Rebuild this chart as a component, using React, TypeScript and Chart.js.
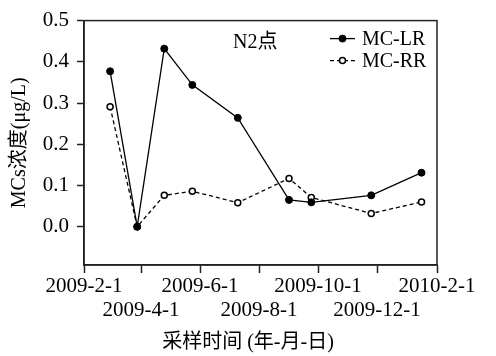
import { useEffect, useRef } from "react";
import { Chart, registerables } from "chart.js";

Chart.register(...registerables);

// ---- data ----
const sampleDates = [
  "2009-02-28",
  "2009-03-28",
  "2009-04-25",
  "2009-05-24",
  "2009-07-10",
  "2009-09-01",
  "2009-09-24",
  "2009-11-25",
  "2010-01-16",
];
const mcLR = [0.377, 0.0, 0.432, 0.344, 0.264, 0.065, 0.059, 0.076, 0.131];
const mcRR = [0.291, 0.0, 0.076, 0.086, 0.058, 0.117, 0.071, 0.032, 0.06];
const xTickDates = [
  "2009-02-01",
  "2009-04-01",
  "2009-06-01",
  "2009-08-01",
  "2009-10-01",
  "2009-12-01",
  "2010-02-01",
];
const xTickLabels = [
  "2009-2-1",
  "2009-4-1",
  "2009-6-1",
  "2009-8-1",
  "2009-10-1",
  "2009-12-1",
  "2010-2-1",
];
const yTicks = [0, 0.1, 0.2, 0.3, 0.4, 0.5];
const seriesNames = ["MC-LR", "MC-RR"];
const siteLabel = "N2点";
const yTitle = "MCs浓度(μg/L)";
const xTitle = "采样时间 (年-月-日)";

const SERIF = "'Liberation Serif', 'Times New Roman', 'Noto Sans CJK SC', serif";

const origin = Date.UTC(2009, 1, 1);
const toDay = (s: string) => {
  const [y, m, d] = s.split("-").map(Number);
  return (Date.UTC(y, m - 1, d) - origin) / 86400000;
};

const framePlugin = {
  id: "frame",
  afterDatasetsDraw(chart: any) {
    const { ctx, chartArea } = chart;
    ctx.save();
    ctx.strokeStyle = "#222";
    ctx.lineWidth = 1.5;
    ctx.strokeRect(chartArea.left, chartArea.top, chartArea.right - chartArea.left, chartArea.bottom - chartArea.top);
    ctx.restore();
  },
};

const annotatePlugin = {
  id: "annotate",
  afterDraw(chart: any) {
    const { ctx, chartArea } = chart;
    ctx.save();
    ctx.fillStyle = "#000";
    ctx.font = `20px ${SERIF}`;
    ctx.textBaseline = "middle";
    ctx.textAlign = "left";
    ctx.fillText(siteLabel, chartArea.left + 149, chartArea.top + 22);

    // x-axis title
    ctx.textAlign = "center";
    ctx.font = `20px ${SERIF}`;
    ctx.fillText(xTitle, chartArea.left + 164, chart.height - 13);
    ctx.textAlign = "left";

    // legend
    const rows = chart.data.datasets;
    rows.forEach((ds: any, i: number) => {
      const y = chartArea.top + 18 + i * 22;
      const x0 = chartArea.right - 107;
      const x1 = chartArea.right - 82;
      ctx.strokeStyle = ds.borderColor;
      ctx.lineWidth = ds.borderWidth;
      ctx.setLineDash(ds.borderDash || []);
      ctx.beginPath();
      ctx.moveTo(x0, y);
      ctx.lineTo(x1, y);
      ctx.stroke();
      ctx.setLineDash([]);
      ctx.beginPath();
      ctx.arc((x0 + x1) / 2, y, ds.pointRadius, 0, Math.PI * 2);
      ctx.fillStyle = ds.pointBackgroundColor;
      ctx.fill();
      ctx.lineWidth = ds.pointBorderWidth;
      ctx.strokeStyle = ds.pointBorderColor;
      ctx.stroke();
      ctx.fillStyle = "#000";
      ctx.font = `20px ${SERIF}`;
      ctx.fillText(ds.label, x1 + 7, y + 1);
    });
    ctx.restore();
  },
};

export default function App() {
  const ref = useRef<HTMLCanvasElement | null>(null);

  useEffect(() => {
    if (!ref.current) return;
    const xs = sampleDates.map(toDay);
    const chart = new Chart(ref.current, {
      type: "line",
      data: {
        datasets: [
          {
            label: seriesNames[0],
            data: xs.map((x, i) => ({ x, y: mcLR[i] })),
            borderColor: "#000",
            borderWidth: 1.3,
            pointRadius: 3.5,
            pointBackgroundColor: "#000",
            pointBorderColor: "#000",
            pointBorderWidth: 1,
            tension: 0,
          },
          {
            label: seriesNames[1],
            data: xs.map((x, i) => ({ x, y: mcRR[i] })),
            borderColor: "#000",
            borderWidth: 1.3,
            borderDash: [4, 3],
            pointRadius: 3,
            pointBackgroundColor: "#fff",
            pointBorderColor: "#000",
            pointBorderWidth: 1.5,
            tension: 0,
          },
        ],
      },
      options: {
        animation: false,
        responsive: false,
        maintainAspectRatio: false,
        layout: { padding: { top: 10, right: 59, left: 0, bottom: 0 } },
        plugins: { legend: { display: false }, tooltip: { enabled: false } },
        scales: {
          x: {
            type: "linear",
            min: 0,
            max: toDay(xTickDates[xTickDates.length - 1]),
            afterBuildTicks: (scale: any) => {
              scale.ticks = xTickDates.map((d) => ({ value: toDay(d) }));
            },
            afterFit: (scale: any) => {
              scale.height = 91;
            },
            grid: { drawOnChartArea: false, tickLength: 8, color: "#222", tickWidth: 1.5 },
            border: { color: "#222", width: 1.5 },
            ticks: {
              autoSkip: false,
              maxRotation: 0,
              padding: 2,
              color: "#000",
              font: { family: SERIF, size: 21, lineHeight: 1.12 },
              callback: (_v: any, i: number) =>
                i % 2 === 0 ? [xTickLabels[i], ""] : ["", xTickLabels[i]],
            },
            title: { display: false },
          },
          y: {
            min: -0.093,
            max: 0.5,
            afterBuildTicks: (scale: any) => {
              scale.ticks = yTicks.map((v) => ({ value: v }));
            },
            afterFit: (scale: any) => {
              scale.width = 84;
            },
            grid: { drawOnChartArea: false, tickLength: 7, color: "#222", tickWidth: 1.5 },
            border: { color: "#222", width: 1.5 },
            ticks: {
              padding: 8,
              color: "#000",
              font: { family: SERIF, size: 21 },
              callback: (v: any) => Number(v).toFixed(1),
            },
            title: {
              display: true,
              text: yTitle,
              color: "#000",
              font: { family: SERIF, size: 20, lineHeight: 1.2 },
              padding: { top: 8, bottom: 0 },
            },
          },
        },
      },
      plugins: [framePlugin, annotatePlugin],
    } as any);
    return () => chart.destroy();
  }, []);

  return (
    <div style={{ position: "absolute", left: 0, top: 0, width: 496, height: 356, background: "#fff" }}>
      <canvas ref={ref} width={496} height={356} style={{ width: 496, height: 356, display: "block" }} />
    </div>
  );
}
